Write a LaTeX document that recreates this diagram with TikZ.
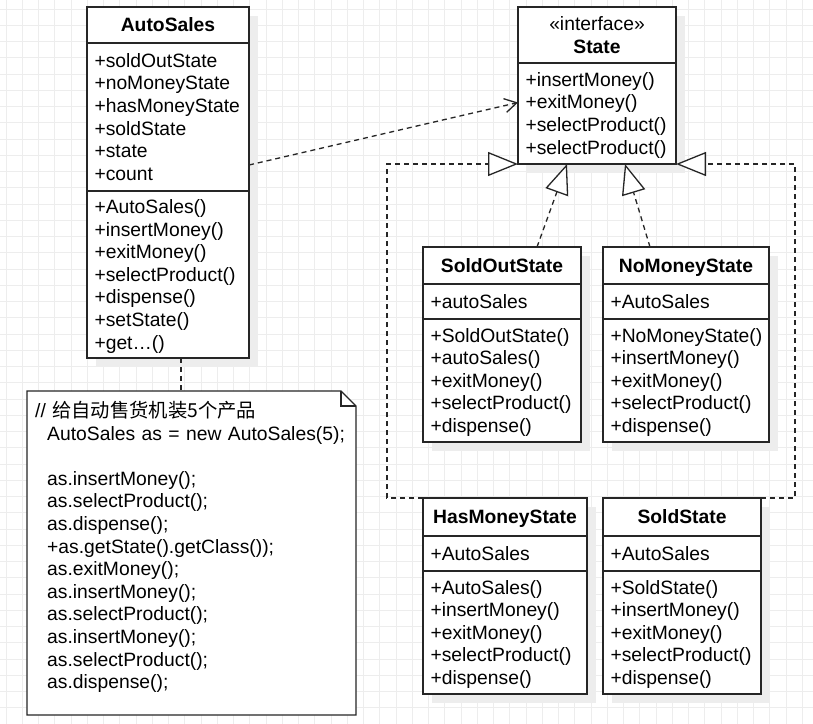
\documentclass[tikz,border=0pt]{standalone}
\usepackage{fontspec}
\setmainfont{Liberation Sans}
\newfontfamily\cjkfont{Noto Sans CJK SC}
\usetikzlibrary{positioning,arrows.meta,shadows}

\newcommand{\umlstrut}{\rule[-4.6pt]{0pt}{22.6pt}}

\tikzset{
  umlpart/.style={draw=black!85, line width=1.3pt, fill=white, outer sep=0pt,
    inner xsep=7.5pt, inner ysep=0pt, font={\fontsize{19.3pt}{22.6pt}\selectfont},
    execute at begin node=\umlstrut, execute at end node=\umlstrut,
    drop shadow={shadow xshift=9pt, shadow yshift=-9pt, fill=black!7, opacity=1}},
  umlhead/.style={umlpart, align=center},
  umlbody/.style={umlpart, align=left},
  boxw/.style={minimum width=#1, text width=#1-15pt},
  dep/.style={draw=black!85, line width=1.3pt, dash pattern=on 5pt off 4pt},
  realize/.style={dep, -{Triangle[length=30pt, width=24pt, fill=white]}},
  uses/.style={dep, -{Straight Barb[length=12pt, width=14pt]}},
  gridline/.style={draw=black!7, line width=0.6pt},
  notebox/.style={inner sep=0pt, outer sep=0pt},
  noteline/.style={draw=black!85, line width=1.3pt, line join=miter},
  notetext/.style={align=left, text width=315pt, inner sep=0pt,
    font={\fontsize{19.3pt}{22.6pt}\selectfont}}
}

\begin{document}
\begin{tikzpicture}[x=1pt,y=-1pt]
    % Paper and grid
    \fill[white] (0,0) rectangle (813,723);
    \useasboundingbox (0,0) rectangle (813,723);
    \begin{scope}
      \clip (0,0) rectangle (813,723);
      \draw[gridline, step=16.25pt, xshift=6pt, yshift=-9pt] (-20,743) grid (833,-20);
    \end{scope}

    % AutoSales
    \node[umlhead, boxw=162pt, minimum height=36pt, anchor=north west] (autoH) at (87,7) {\textbf{AutoSales}};
    \node[umlbody, boxw=162pt, minimum height=148pt, below=0pt of autoH] (autoA)
      {+soldOutState\\+noMoneyState\\+hasMoneyState\\+soldState\\+state\\+count};
    \node[umlbody, boxw=162pt, minimum height=167pt, below=0pt of autoA] (autoM)
      {+AutoSales()\\+insertMoney()\\+exitMoney()\\+selectProduct()\\+dispense()\\+setState()\\+get…()};

    % State interface
    \node[umlhead, boxw=158pt, minimum height=56pt, anchor=north west] (stateH) at (518,7) {«interface»\\\textbf{State}};
    \node[umlbody, boxw=158pt, minimum height=101pt, below=0pt of stateH] (stateM)
      {+insertMoney()\\+exitMoney()\\+selectProduct()\\+selectProduct()};

    % SoldOutState
    \node[umlhead, boxw=158pt, minimum height=37pt, anchor=north west] (soldOutH) at (423,247) {\textbf{SoldOutState}};
    \node[umlbody, boxw=158pt, minimum height=35pt, below=0pt of soldOutH] (soldOutA) {+autoSales};
    \node[umlbody, boxw=158pt, minimum height=123pt, below=0pt of soldOutA] (soldOutM)
      {+SoldOutState()\\+autoSales()\\+exitMoney()\\+selectProduct()\\+dispense()};

    % NoMoneyState
    \node[umlhead, boxw=166pt, minimum height=37pt, anchor=north west] (noMoneyH) at (603,247) {\textbf{NoMoneyState}};
    \node[umlbody, boxw=166pt, minimum height=35pt, below=0pt of noMoneyH] (noMoneyA) {+AutoSales};
    \node[umlbody, boxw=166pt, minimum height=123pt, below=0pt of noMoneyA] (noMoneyM)
      {+NoMoneyState()\\+insertMoney()\\+exitMoney()\\+selectProduct()\\+dispense()};

    % HasMoneyState
    \node[umlhead, boxw=164pt, minimum height=38pt, anchor=north west] (hasMoneyH) at (423,498) {\textbf{HasMoneyState}};
    \node[umlbody, boxw=164pt, minimum height=35pt, below=0pt of hasMoneyH] (hasMoneyA) {+AutoSales};
    \node[umlbody, boxw=164pt, minimum height=123pt, below=0pt of hasMoneyA] (hasMoneyM)
      {+AutoSales()\\+insertMoney()\\+exitMoney()\\+selectProduct()\\+dispense()};

    % SoldState
    \node[umlhead, boxw=158pt, minimum height=38pt, anchor=north west] (soldH) at (603,498) {\textbf{SoldState}};
    \node[umlbody, boxw=158pt, minimum height=35pt, below=0pt of soldH] (soldA) {+AutoSales};
    \node[umlbody, boxw=158pt, minimum height=123pt, below=0pt of soldA] (soldM)
      {+SoldState()\\+insertMoney()\\+exitMoney()\\+selectProduct()\\+dispense()};

    % Note with folded corner
    \node[notebox, minimum width=329pt, minimum height=324pt, anchor=north west] (note) at (27,391) {};
    \fill[white] (note.north west) -- ([xshift=-15pt]note.north east) -- ([yshift=-15pt]note.north east)
      -- (note.south east) -- (note.south west) -- cycle;
    \draw[noteline] (note.north west) -- ([xshift=-15pt]note.north east) -- ([yshift=-15pt]note.north east)
      -- (note.south east) -- (note.south west) -- cycle;
    \draw[noteline] ([xshift=-15pt]note.north east) -- ([xshift=-15pt,yshift=-15pt]note.north east)
      -- ([yshift=-15pt]note.north east);
    \node[notetext, anchor=north west] (noteText) at (35,401)
      {// {\cjkfont 给自动售货机装5个产品}\\
       \hspace*{12pt}AutoSales as = new AutoSales(5);\\[22.6pt]
       \hspace*{12pt}as.insertMoney();\\
       \hspace*{12pt}as.selectProduct();\\
       \hspace*{12pt}as.dispense();\\
       \hspace*{12pt}+as.getState().getClass());\\
       \hspace*{12pt}as.exitMoney();\\
       \hspace*{12pt}as.insertMoney();\\
       \hspace*{12pt}as.selectProduct();\\
       \hspace*{12pt}as.insertMoney();\\
       \hspace*{12pt}as.selectProduct();\\
       \hspace*{12pt}as.dispense();};

    % Note link
    \coordinate (noteLink) at ([xshift=13pt]autoM.south);
    \draw[dep] (noteLink) -- (noteLink |- note.north);

    % Dependency on the interface
    \draw[uses] ([yshift=-48pt]autoA.east) -- ([yshift=11pt]stateM.west);

    % Realizations
    \draw[realize] ([xshift=35pt]soldOutH.north) -- ([xshift=-30pt]stateM.south);
    \draw[realize] ([xshift=-36pt]noMoneyH.north) -- ([xshift=28pt]stateM.south);
    \draw[realize] (hasMoneyH.north west) -- ++(-36,0) |- (stateM.south west);
    \draw[realize] (soldH.north east) -- ++(34,0) |- (stateM.south east);
\end{tikzpicture}
\end{document}
